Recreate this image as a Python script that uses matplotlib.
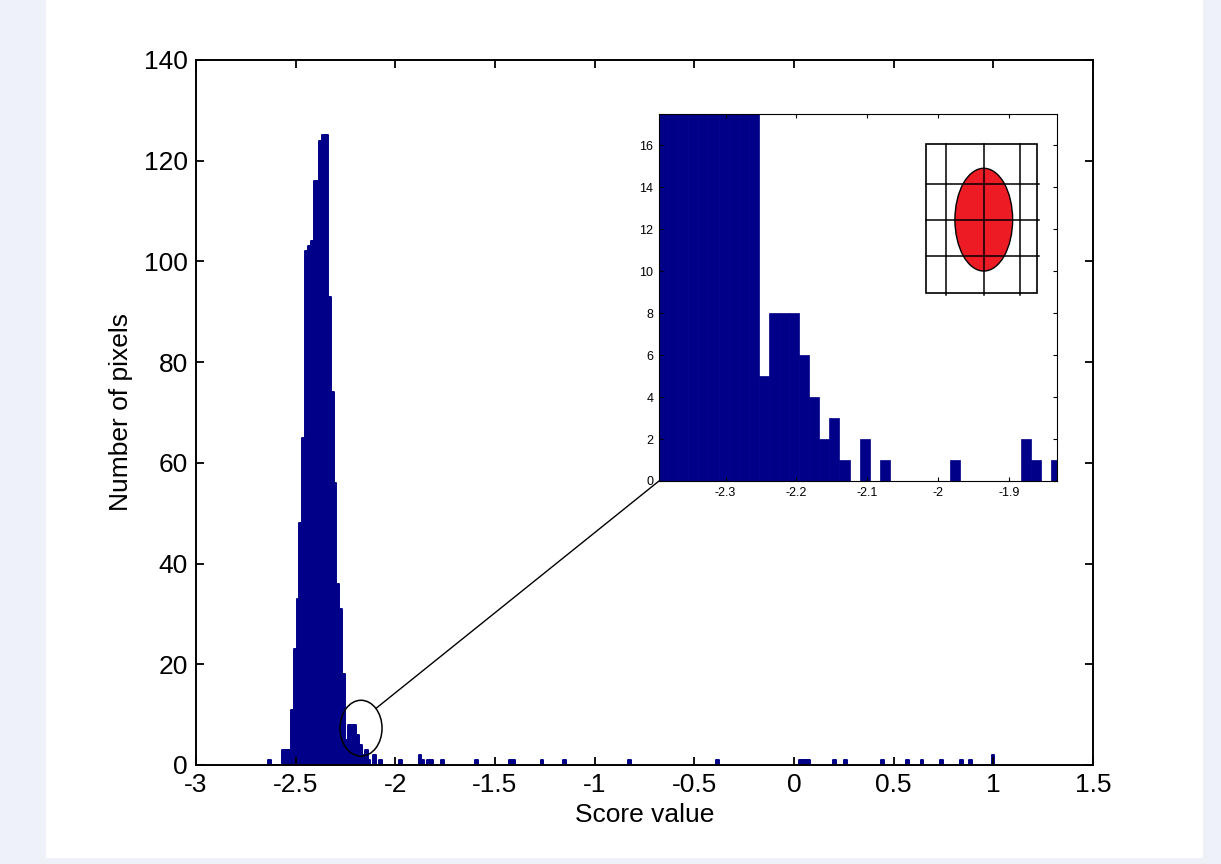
import matplotlib
matplotlib.use('Agg')
import matplotlib.pyplot as plt
from matplotlib.patches import Ellipse, Rectangle, ConnectionPatch
import numpy as np

#
# Histogram of score values (256 equal-width bins), with a zoomed inset
# around the small secondary bump next to the main peak.
#

bin_start = -2.253
bin_width = 0.01423

# bins around the main peak (bin index relative to bin_start)
peak_bins = list(range(-27, 30))
peak_counts = [1, 0, 0, 0, 0, 3, 3, 3, 11, 23, 33, 48, 65, 102, 103, 104,
               116, 116, 124, 125, 125, 93, 74, 56, 36, 31, 18,
               5, 8, 8, 8, 6, 4, 2, 3, 1, 0, 2, 0, 1, 0, 0, 0, 0, 0, 0, 1,
               0, 0, 0, 0, 0, 0, 2, 1, 0, 1]

# isolated bins in the long right tail
tail_bins = [30, 34, 46, 58, 59, 69, 77, 100, 131, 160, 161, 162, 163,
             172, 176, 189, 198, 203, 210, 217, 220, 228]
tail_counts = [1, 1, 1, 1, 1, 1, 1, 1, 1, 1, 1, 1, 1,
               1, 1, 1, 1, 1, 1, 1, 1, 2]

x_ticks = [-3, -2.5, -2, -1.5, -1, -0.5, 0, 0.5, 1, 1.5]
x_labels = ['-3', '-2.5', '-2', '-1.5', '-1', '-0.5', '0', '0.5', '1', '1.5']
y_ticks = [0, 20, 40, 60, 80, 100, 120, 140]

inset_x_ticks = [-2.3, -2.2, -2.1, -2.0, -1.9]
inset_x_labels = ['-2.3', '-2.2', '-2.1', '-2', '-1.9']
inset_y_ticks = [0, 2, 4, 6, 8, 10, 12, 14, 16]

bar_color = '#000088'

plt.rcParams['font.family'] = ['Liberation Sans', 'DejaVu Sans']

bins = np.array(peak_bins + tail_bins)
counts = np.array(peak_counts + tail_counts)
centers = bin_start + (bins + 0.5) * bin_width

fig = plt.figure(figsize=(12.21, 8.64), dpi=100, facecolor='#eef1f7')
fig.patches.append(Rectangle((46 / 1221, 6 / 864), 1157 / 1221, 858 / 864,
                             transform=fig.transFigure, facecolor='white',
                             edgecolor='none', zorder=-10))

ax = fig.add_axes([0.1605, 0.1146, 0.7346, 0.816])
ax.bar(centers, counts, width=bin_width, color=bar_color,
       edgecolor=bar_color, linewidth=1.4, joinstyle='round')
ax.set_xlim(-3, 1.5)
ax.set_ylim(0, 140)
ax.set_xticks(x_ticks)
ax.set_xticklabels(x_labels)
ax.set_yticks(y_ticks)
ax.tick_params(direction='in', length=6, width=1.3, labelsize=19,
               top=True, right=True, pad=6)
for s in ax.spines.values():
    s.set_linewidth(1.4)
    s.set_zorder(4)
ax.set_xlabel('Score value', fontsize=19, labelpad=4)
ax.set_ylabel('Number of pixels', fontsize=19, labelpad=8)

# circle marking the zoomed region
cx, cy, ew, eh = -2.172, 7.3, 0.211, 11.1
ax.add_patch(Ellipse((cx, cy), ew, eh, facecolor='none', edgecolor='black',
                     linewidth=1.1, zorder=5))

# inset
ins = fig.add_axes([0.5397, 0.4433, 0.326, 0.4248])
ins.bar(centers, counts, width=bin_width, color=bar_color,
        edgecolor=bar_color, linewidth=0.5)
ins.set_xlim(-2.394, -1.832)
ins.set_ylim(0, 17.5)
ins.set_xticks(inset_x_ticks)
ins.set_xticklabels(inset_x_labels)
ins.set_yticks(inset_y_ticks)
ins.tick_params(direction='in', length=3, width=0.8, labelsize=9,
                top=True, right=True, pad=4)
for s in ins.spines.values():
    s.set_linewidth(0.8)

# pixel grid sketch with the red blob
gx0, gx1, gy0, gy1 = 0.671, 0.949, 0.513, 0.917
ins.add_patch(Ellipse((0.816, 0.712), 0.145, 0.280, transform=ins.transAxes,
                      facecolor='#ed1c24', edgecolor='black', linewidth=1.0,
                      zorder=6))
ins.add_patch(Rectangle((gx0, gy0), gx1 - gx0, gy1 - gy0,
                        transform=ins.transAxes, facecolor='none',
                        edgecolor='black', linewidth=1.2, zorder=7))
for gx in [0.721, 0.817, 0.907]:
    ins.plot([gx, gx], [gy0 - 0.005, gy1], color='black', linewidth=1.1,
             transform=ins.transAxes, zorder=7)
for gy in [0.808, 0.711, 0.614]:
    ins.plot([gx0, gx1 + 0.005], [gy, gy], color='black', linewidth=1.1,
             transform=ins.transAxes, zorder=7)

# line from circle to inset corner
ang = np.deg2rad(45)
con = ConnectionPatch(xyA=(cx + ew / 2 * np.cos(ang), cy + eh / 2 * np.sin(ang)),
                      coordsA=ax.transData, xyB=(0, 0), coordsB=ins.transAxes,
                      color='black', linewidth=1.0)
fig.add_artist(con)

fig.savefig('out.png', dpi=100, facecolor=fig.get_facecolor())
